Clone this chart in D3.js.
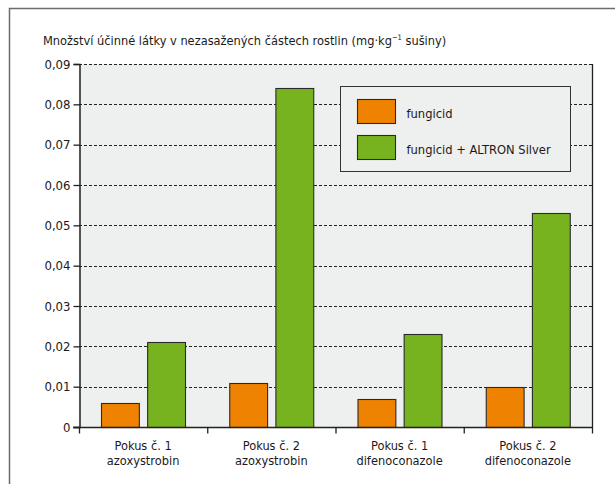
<!DOCTYPE html>
<html>
<head>
<meta charset="utf-8">
<script src="https://cdn.jsdelivr.net/npm/d3@7"></script>
<style>
  body { margin: 0; background: #fff; }
  svg { font-family: "DejaVu Sans Condensed", "Liberation Sans Narrow", sans-serif; }
</style>
</head>
<body>
<svg id="chart" width="615" height="484"></svg>
<script>
var width = 615;
var height = 484;

var categories = ["Pokus č. 1|azoxystrobin", "Pokus č. 2|azoxystrobin", "Pokus č. 1|difenoconazole", "Pokus č. 2|difenoconazole"];
var seriesNames = ["fungicid", "fungicid + ALTRON Silver"];
var fungicid = [0.006, 0.011, 0.007, 0.010];
var altron = [0.021, 0.084, 0.023, 0.053];
var yTicks = [0, 0.01, 0.02, 0.03, 0.04, 0.05, 0.06, 0.07, 0.08, 0.09];
var colors = ["#ef8200", "#77b31f"];

var plot = { left: 79, right: 592, top: 64, bottom: 427 };

var svg = d3.select("#chart");

// outer frame (only top and left edges visible)
svg.append("path")
    .attr("d", "M9.5," + height + "V8.5H" + width)
    .attr("fill", "none")
    .attr("stroke", "#6b6b6b")
    .attr("stroke-width", 1.5);

svg.append("text")
    .attr("x", 43)
    .attr("y", 45)
    .attr("font-size", 12.7)
    .attr("fill", "#1a1a1a")
    .html('Množství účinné látky v nezasažených částech rostlin (mg·kg<tspan dy="-5" font-size="7.5">−1</tspan><tspan dy="5"> sušiny)</tspan>');

var x0 = d3.scaleBand()
    .domain(categories)
    .range([plot.left, plot.right]);

var x1 = d3.scaleBand()
    .domain([0, 1])
    .range([22, 106])
    .paddingInner(0.18);

var y = d3.scaleLinear()
    .domain([0, 0.09])
    .range([plot.bottom, plot.top]);

svg.append("rect")
    .attr("x", plot.left)
    .attr("y", plot.top)
    .attr("width", plot.right - plot.left)
    .attr("height", plot.bottom - plot.top)
    .attr("fill", "#eeefef");

// grid lines
svg.append("g")
    .selectAll("line")
    .data(yTicks.slice(1))
    .join("line")
    .attr("x1", plot.left)
    .attr("x2", plot.right)
    .attr("y1", d => Math.round(y(d)) + 0.5)
    .attr("y2", d => Math.round(y(d)) + 0.5)
    .attr("stroke", "#222")
    .attr("stroke-width", 1)
    .attr("stroke-dasharray", "3,2");

// bars
var data = categories.map((c, i) => ({ cat: c, vals: [fungicid[i], altron[i]] }));

svg.append("g")
    .selectAll("g")
    .data(data)
    .join("g")
    .attr("transform", d => "translate(" + x0(d.cat) + ",0)")
    .selectAll("rect")
    .data(d => d.vals)
    .join("rect")
    .attr("x", (d, i) => x1(i) + 0.5)
    .attr("y", d => Math.round(y(d)) + 0.5)
    .attr("width", x1.bandwidth())
    .attr("height", d => plot.bottom - Math.round(y(d)))
    .attr("fill", (d, i) => colors[i])
    .attr("stroke", "#2a2a2a")
    .attr("stroke-width", 1.1);

// right edge of plot
svg.append("line")
    .attr("x1", plot.right + 0.5)
    .attr("x2", plot.right + 0.5)
    .attr("y1", plot.top)
    .attr("y2", plot.bottom)
    .attr("stroke", "#222")
    .attr("stroke-width", 1.3);

// y axis
var yAxis = d3.axisLeft(y)
    .tickValues(yTicks)
    .tickSize(6)
    .tickFormat(d => d === 0 ? "0" : d3.format(".2f")(d).replace(".", ","));

var gy = svg.append("g")
    .attr("transform", "translate(" + (plot.left + 0.5) + ",0)")
    .call(yAxis);
gy.attr("font-family", null);
gy.select(".domain").attr("stroke", "#222").attr("stroke-width", 1.5);
gy.selectAll(".tick line").attr("stroke", "#222").attr("stroke-width", 1.3);
gy.selectAll(".tick text")
    .attr("font-size", 13)
    .attr("fill", "#1a1a1a")
    .attr("x", -9);

// x axis
var gx = svg.append("g")
    .attr("transform", "translate(0," + (plot.bottom + 0.5) + ")");
gx.append("line")
    .attr("x1", plot.left - 6)
    .attr("x2", plot.right + 1)
    .attr("stroke", "#222")
    .attr("stroke-width", 1.5);
gx.selectAll(".xtick")
    .data(categories.map(c => x0(c)).concat([plot.right]))
    .join("line")
    .attr("class", "xtick")
    .attr("x1", d => d + 0.5)
    .attr("x2", d => d + 0.5)
    .attr("y1", 0)
    .attr("y2", 6)
    .attr("stroke", "#222")
    .attr("stroke-width", 1.3);
gx.selectAll(".xlabel")
    .data(categories)
    .join("text")
    .attr("class", "xlabel")
    .attr("text-anchor", "middle")
    .attr("font-size", 12.7)
    .attr("fill", "#1a1a1a")
    .selectAll("tspan")
    .data(d => d.split("|").map(t => ({ t: t, cx: x0(d) + x0.bandwidth() / 2 })))
    .join("tspan")
    .attr("x", d => d.cx)
    .attr("y", (d, i) => 22 + i * 15)
    .text(d => d.t);

// legend
var legend = svg.append("g").attr("transform", "translate(340.5,86.5)");
legend.append("rect")
    .attr("width", 230)
    .attr("height", 85)
    .attr("fill", "#eeefef")
    .attr("stroke", "#333")
    .attr("stroke-width", 1);
var li = legend.selectAll("g")
    .data(seriesNames)
    .join("g")
    .attr("transform", (d, i) => "translate(17," + (13 + i * 36) + ")");
li.append("rect")
    .attr("width", 38)
    .attr("height", 24)
    .attr("fill", (d, i) => colors[i])
    .attr("stroke", "#2a2a2a")
    .attr("stroke-width", 1.1);
li.append("text")
    .attr("x", 49)
    .attr("y", 18)
    .attr("font-size", 12.8)
    .attr("fill", "#1a1a1a")
    .text(d => d);
</script>
</body>
</html>
